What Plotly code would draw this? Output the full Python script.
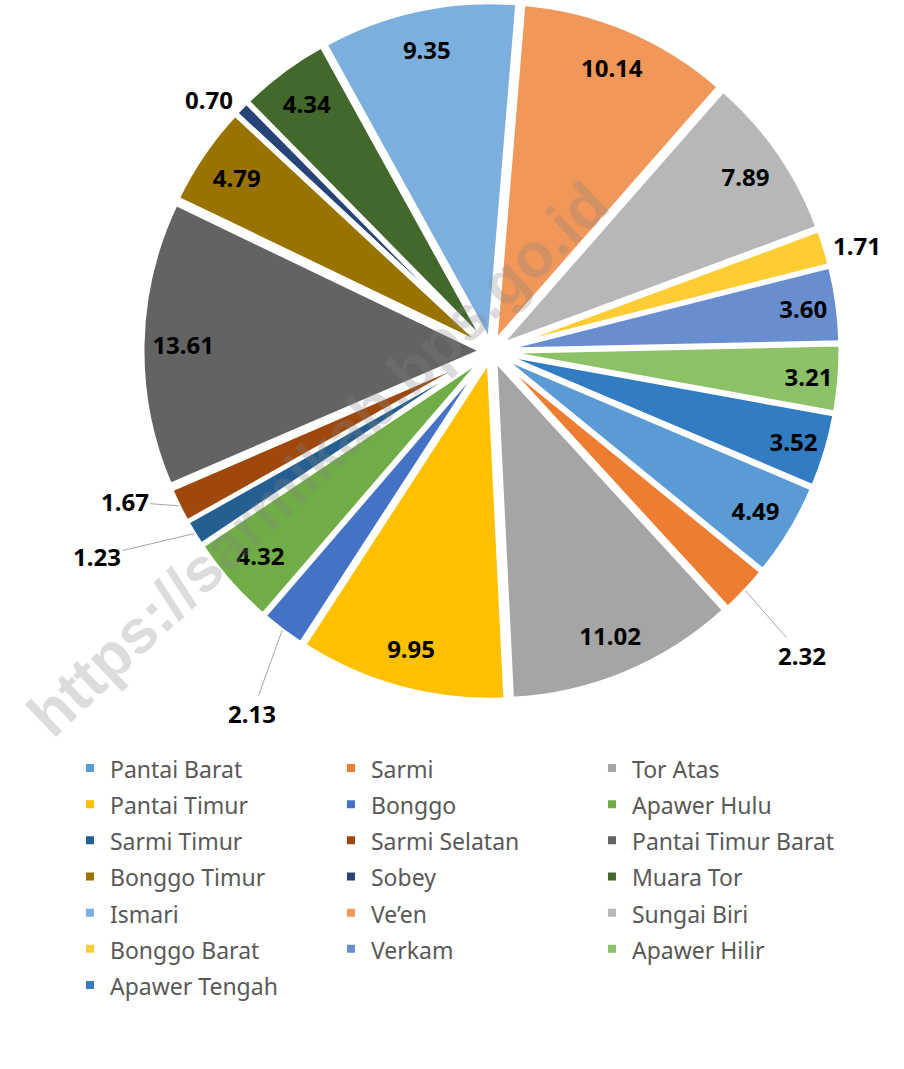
import math

import plotly.graph_objects as go

DISTRICTS = [
    "Pantai Barat", "Sarmi", "Tor Atas",
    "Pantai Timur", "Bonggo", "Apawer Hulu",
    "Sarmi Timur", "Sarmi Selatan", "Pantai Timur Barat",
    "Bonggo Timur", "Sobey", "Muara Tor",
    "Ismari", "Ve’en", "Sungai Biri",
    "Bonggo Barat", "Verkam", "Apawer Hilir",
    "Apawer Tengah",
]
SHARES = [
    4.49, 2.32, 11.02,
    9.95, 2.13, 4.32,
    1.23, 1.67, 13.61,
    4.79, 0.70, 4.34,
    9.35, 10.14, 7.89,
    1.71, 3.60, 3.21,
    3.52,
]
COLORS = [
    "#5B9BD5", "#ED7D31", "#A5A5A5",
    "#FFC000", "#4472C4", "#70AD47",
    "#255E91", "#9E480E", "#636363",
    "#997300", "#264478", "#43682B",
    "#7CAFDD", "#F1975A", "#B7B7B7",
    "#FFCD33", "#698ED0", "#8CC168",
    "#327DC2",
]
# small slices whose value sits just outside the rim
OUTSIDE = {"Sobey", "Bonggo Barat"}
# small slices whose value is pulled away with a leader line (label offset in px)
CALLOUTS = {"Sarmi": (57, 65), "Bonggo": (-30, 83), "Sarmi Timur": (-97, 23), "Sarmi Selatan": (-54, -4)}

text_pos = []
for d in DISTRICTS:
    if d in OUTSIDE:
        text_pos.append("outside")
    elif d in CALLOUTS:
        text_pos.append("none")
    else:
        text_pos.append("inside")

# legend font is kept large so rows get Excel-like spacing, visible text is smaller
legend_names = [f'<span style="font-size:23px">{d}</span>' for d in DISTRICTS]

W, H = 904, 1069
ROTATION = 113
PULL = 0.03
DOM_X = [0.1576, 0.9297]
DOM_Y = [0.3452, 0.9981]

pie_common = dict(
    labels=legend_names,
    values=SHARES,
    sort=False,
    direction="clockwise",
    rotation=ROTATION,
    pull=PULL,
    domain=dict(x=DOM_X, y=DOM_Y),
)

fig = go.Figure()
# the wedges
fig.add_trace(go.Pie(
    **pie_common,
    marker=dict(colors=COLORS, line=dict(color="white", width=4)),
    textinfo="none",
    hovertemplate="%{label}: %{value:.2f}<extra></extra>",
))
# transparent ring on top only carries the value labels, so they sit near the rim
fig.add_trace(go.Pie(
    **pie_common,
    hole=0.76,
    marker=dict(colors=["rgba(0,0,0,0)"] * len(SHARES), line=dict(width=0)),
    texttemplate="%{value:.2f}",
    textposition=text_pos,
    insidetextorientation="horizontal",
    textfont=dict(family="Noto Sans", size=24, color="black", weight="bold"),
    showlegend=False,
    hoverinfo="skip",
))

# leader-line labels: anchor each at the middle of its slice's pulled-out rim
# (pie radius is half the domain box / (1 + pull), so radius + pull = half the box)
cx = W * sum(DOM_X) / 2
cy = H * (1 - sum(DOM_Y) / 2)
rim = min(W * (DOM_X[1] - DOM_X[0]), H * (DOM_Y[1] - DOM_Y[0])) / 2
total = sum(SHARES)
cum = 0.0
for d, v in zip(DISTRICTS, SHARES):
    if d in CALLOUTS:
        ang = math.radians(ROTATION + 360 * (cum + v / 2) / total)
        px = cx + rim * math.sin(ang)
        py = cy - rim * math.cos(ang)
        ax, ay = CALLOUTS[d]
        fig.add_annotation(
            x=px / W, y=1 - py / H, xref="paper", yref="paper",
            text=f"<b>{v:.2f}</b>", ax=ax, ay=ay,
            showarrow=True, arrowhead=0, arrowwidth=1, arrowcolor="#A6A6A6",
            font=dict(family="Noto Sans", size=24, color="black"),
        )
    cum += v

fig.add_annotation(
    text="<b>https://sarmikab.bps.go.id</b>",
    x=0.352, y=0.571, xref="paper", yref="paper",
    textangle=-43.5, showarrow=False,
    font=dict(family="Liberation Sans", size=62, color="rgba(128,128,128,0.28)"),
)

fig.update_layout(
    width=W,
    height=H,
    margin=dict(l=0, r=0, t=0, b=0, autoexpand=False),
    paper_bgcolor="white",
    showlegend=True,
    legend=dict(
        orientation="h",
        x=0.0774, xanchor="left",
        y=0.3031, yanchor="top",
        entrywidth=216,
        font=dict(family="Noto Sans", size=25.5, color="#595959"),
    ),
)

fig.write_html(
    "out.html",
    config={"displayModeBar": False},
    post_script="document.body.style.margin='0';",
)
